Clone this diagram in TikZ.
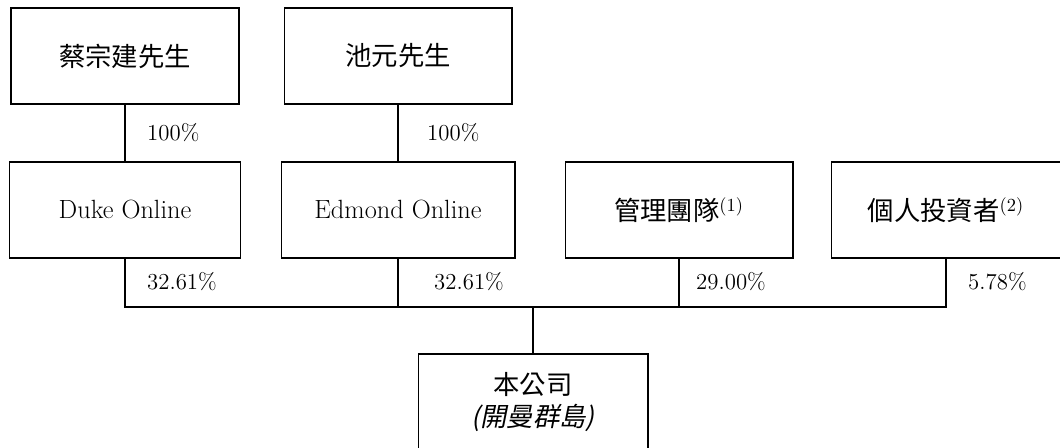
\documentclass[tikz,border=0pt]{standalone}
\usepackage{fontspec}
\newfontfamily\cjk{Noto Sans CJK TC}
\newfontfamily\cjkslant[FakeSlant=0.2]{Noto Sans CJK TC}
\begin{document}
\begin{tikzpicture}[x=0.02cm, y=-0.02cm,
  box/.style={draw, semithick, minimum width=4.56cm, minimum height=1.92cm, inner sep=0pt, font=\fontsize{15}{18.7}\selectfont},
  pct/.style={anchor=west, font=\fontsize{13}{15}\selectfont}]
  \useasboundingbox (0,0) rectangle (1060,448);
  \clip (0,0) rectangle (1060,448);
  \node [box] (cai) at (125,56) {\cjk 蔡宗建先生};
  \node [box] (chi) at (398,56) {\cjk 池元先生};
  \node [box, minimum width=4.62cm] (duke) at (125,210) {Duke Online};
  \node [box, minimum width=4.68cm] (edmond) at (398,210) {Edmond Online};
  \node [box] (team) at (679,210) {{\cjk 管理團隊}\textsuperscript{(1)}};
  \node [box, minimum width=4.6cm] (indiv) at (946,210) {{\cjk 個人投資者}\textsuperscript{(2)}};
  \node [box, minimum width=4.6cm, align=center] (co) at (533,402) {{\cjk 本公司}\\{\cjkslant (開曼群島)}};
  \coordinate (bus) at (533,307);
  \draw [semithick] (cai) -- (duke);
  \draw [semithick] (chi) -- (edmond);
  \draw [semithick] (duke.south) -- (duke.south |- bus) -| (indiv.south);
  \draw [semithick] (edmond.south) -- (edmond.south |- bus);
  \draw [semithick] (team.south) -- (team.south |- bus);
  \draw [semithick] (bus) -- (co.north);
  \node [pct] (p1) at (141,133) {100\%};
  \node [pct] (p2) at (421,133) {100\%};
  \node [pct] (p3) at (141,282) {32.61\%};
  \node [pct] (p4) at (428,282) {32.61\%};
  \node [pct] (p5) at (690,282) {29.00\%};
  \node [pct] (p6) at (962,282) {5.78\%};
\end{tikzpicture}
\end{document}
